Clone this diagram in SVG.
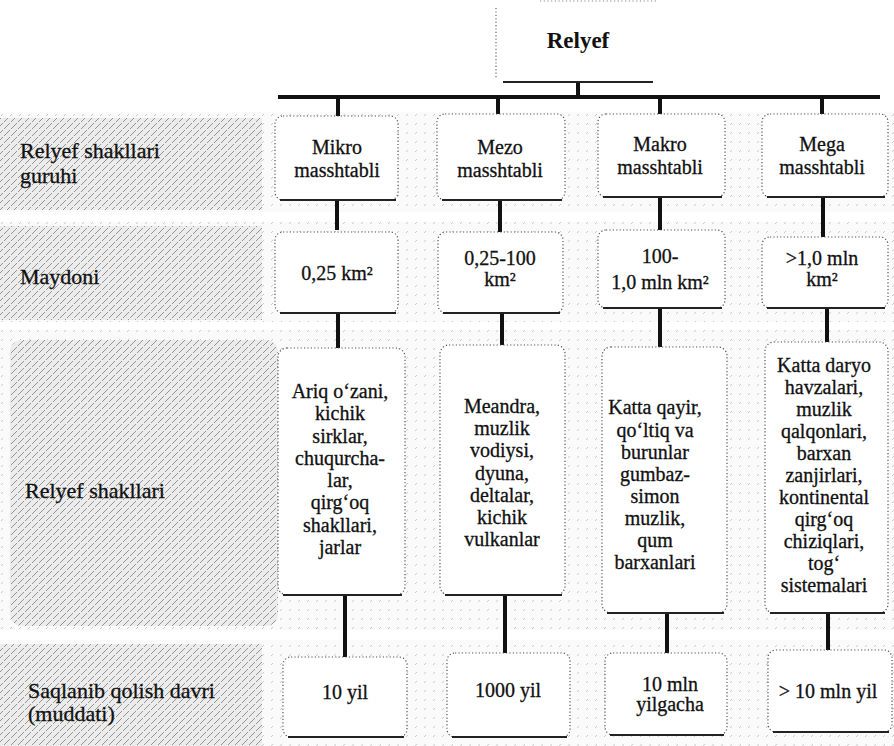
<svg xmlns="http://www.w3.org/2000/svg" width="894" height="746" viewBox="0 0 894 746">
<defs>
<pattern id="hatch" width="7" height="7" patternUnits="userSpaceOnUse">
<rect width="7" height="7" fill="#ececec"/>
<path d="M0 7 L3 4 M4 3 L7 0" stroke="#8a8a8a" stroke-width="0.9"/>
</pattern>
<pattern id="hatchLight" width="9" height="9" patternUnits="userSpaceOnUse">
<rect width="9" height="9" fill="#fafafa"/>
<path d="M1 8 L3 6" stroke="#bdbdbd" stroke-width="0.8"/>
</pattern>
</defs>
<style>
.box{fill:#fff;stroke:#555;stroke-width:1.2;stroke-dasharray:1.2 2.2}
.base{stroke:#222;stroke-width:2;fill:none}
.conn{stroke:#111;stroke-width:4;fill:none}
.t{font-family:"Liberation Serif","Times New Roman",serif;font-size:20px;fill:#111;stroke:#111;stroke-width:0.3;text-anchor:middle}
.lbl{font-family:"Liberation Serif","Times New Roman",serif;font-size:22px;fill:#111;stroke:#111;stroke-width:0.3}
.title{font-family:"Liberation Serif","Times New Roman",serif;font-size:23px;font-weight:bold;fill:#111;text-anchor:middle}
</style>
<rect width="894" height="746" fill="#fff"/>
<g id="bands">
<rect x="0" y="112" width="894" height="100" fill="url(#hatchLight)"/>
<rect x="0" y="222" width="894" height="100" fill="url(#hatchLight)"/>
<rect x="0" y="330" width="894" height="300" fill="url(#hatchLight)"/>
<rect x="0" y="640" width="894" height="106" fill="url(#hatchLight)"/>
<rect x="0" y="118" width="262" height="92" fill="url(#hatch)"/>
<rect x="0" y="226" width="262" height="94" fill="url(#hatch)"/>
<rect x="10" y="340" width="268" height="286" rx="12" fill="url(#hatch)"/>
<rect x="0" y="644" width="262" height="102" fill="url(#hatch)"/>
</g>
<g id="row-labels">
<text class="lbl" x="20" y="158">Relyef shakllari</text>
<text class="lbl" x="20" y="183">guruhi</text>
<text class="lbl" x="20" y="284">Maydoni</text>
<text class="lbl" x="25" y="498">Relyef shakllari</text>
<text class="lbl" x="28" y="698">Saqlanib qolish davri</text>
<text class="lbl" x="28" y="721">(muddati)</text>
</g>
<g id="connectors">
<path class="conn" d="M578 82 V97"/>
<path class="conn" d="M278 97 H880"/>
<path class="conn" d="M338 97 V117 M498 97 V114 M660 97 V114 M822 97 V114"/>
<path class="conn" d="M337 200 V230 M500 200 V232 M660 197 V230 M823 197 V237"/>
<path class="conn" d="M338 313 V348 M502 313 V345 M660 308 V347 M827 308 V342"/>
<path class="conn" d="M345 595 V657 M505 595 V653 M667 613 V653 M828 613 V650"/>
</g>
<g id="node-relyef">
<path d="M540 1 H657" stroke="#888" stroke-width="1" stroke-dasharray="1.2 2.5"/>
<path d="M496 8 V78" stroke="#666" stroke-width="1.2" stroke-dasharray="1.2 2.2"/>
<path class="base" d="M503 82 H653"/>
<text class="title" x="578" y="48">Relyef</text>
</g>
<g id="node-mikro">
<rect class="box" x="275" y="116" width="123" height="84" rx="8"/>
<path class="base" d="M280 200 H396"/>
<text class="t" x="337" y="154">Mikro</text>
<text class="t" x="337" y="177">masshtabli</text>
</g>
<g id="node-mezo">
<rect class="box" x="437" y="114" width="128" height="86" rx="8"/>
<path class="base" d="M442 200 H562"/>
<text class="t" x="500" y="154">Mezo</text>
<text class="t" x="500" y="177">masshtabli</text>
</g>
<g id="node-makro">
<rect class="box" x="598" y="114" width="127" height="83" rx="8"/>
<path class="base" d="M603 197 H722"/>
<text class="t" x="660" y="151">Makro</text>
<text class="t" x="660" y="174">masshtabli</text>
</g>
<g id="node-mega">
<rect class="box" x="762" y="114" width="126" height="83" rx="8"/>
<path class="base" d="M767 197 H885"/>
<text class="t" x="822" y="151">Mega</text>
<text class="t" x="822" y="174">masshtabli</text>
</g>
<g id="node-mikro-area">
<rect class="box" x="275" y="232" width="123" height="81" rx="8"/>
<path class="base" d="M280 313 H396"/>
<text class="t" x="337" y="280">0,25 km²</text>
</g>
<g id="node-mezo-area">
<rect class="box" x="438" y="232" width="125" height="81" rx="8"/>
<path class="base" d="M443 313 H560"/>
<text class="t" x="500" y="265">0,25-100</text>
<text class="t" x="500" y="286">km²</text>
</g>
<g id="node-makro-area">
<rect class="box" x="598" y="230" width="127" height="78" rx="8"/>
<path class="base" d="M603 308 H722"/>
<text class="t" x="660" y="263">100-</text>
<text class="t" x="660" y="289">1,0 mln km²</text>
</g>
<g id="node-mega-area">
<rect class="box" x="762" y="237" width="126" height="71" rx="8"/>
<path class="base" d="M767 308 H885"/>
<text class="t" x="822" y="265">&gt;1,0 mln</text>
<text class="t" x="822" y="286">km²</text>
</g>
<g id="node-mikro-forms">
<rect class="box" x="278" y="348" width="127" height="247" rx="9"/>
<path class="base" d="M283 595 H402"/>
<text class="t" x="340" y="398">Ariq o‘zani,</text>
<text class="t" x="340" y="420">kichik</text>
<text class="t" x="340" y="443">sirklar,</text>
<text class="t" x="340" y="465">chuqurcha-</text>
<text class="t" x="340" y="487">lar,</text>
<text class="t" x="340" y="509">qirg‘oq</text>
<text class="t" x="340" y="532">shakllari,</text>
<text class="t" x="340" y="554">jarlar</text>
</g>
<g id="node-mezo-forms">
<rect class="box" x="440" y="345" width="125" height="250" rx="9"/>
<path class="base" d="M445 595 H562"/>
<text class="t" x="502" y="413">Meandra,</text>
<text class="t" x="502" y="435">muzlik</text>
<text class="t" x="502" y="457">vodiysi,</text>
<text class="t" x="502" y="480">dyuna,</text>
<text class="t" x="502" y="502">deltalar,</text>
<text class="t" x="502" y="524">kichik</text>
<text class="t" x="502" y="546">vulkanlar</text>
</g>
<g id="node-makro-forms">
<rect class="box" x="602" y="347" width="125" height="266" rx="9"/>
<path class="base" d="M607 613 H724"/>
<text class="t" x="655" y="414">Katta qayir,</text>
<text class="t" x="655" y="437">qo‘ltiq va</text>
<text class="t" x="655" y="459">burunlar</text>
<text class="t" x="655" y="481">gumbaz-</text>
<text class="t" x="655" y="503">simon</text>
<text class="t" x="655" y="525">muzlik,</text>
<text class="t" x="655" y="547">qum</text>
<text class="t" x="655" y="569">barxanlari</text>
</g>
<g id="node-mega-forms">
<rect class="box" x="765" y="342" width="123" height="271" rx="9"/>
<path class="base" d="M770 613 H885"/>
<text class="t" x="824" y="372">Katta daryo</text>
<text class="t" x="824" y="394">havzalari,</text>
<text class="t" x="824" y="416">muzlik</text>
<text class="t" x="824" y="438">qalqonlari,</text>
<text class="t" x="824" y="460">barxan</text>
<text class="t" x="824" y="482">zanjirlari,</text>
<text class="t" x="824" y="504">kontinental</text>
<text class="t" x="824" y="526">qirg‘oq</text>
<text class="t" x="824" y="548">chiziqlari,</text>
<text class="t" x="824" y="570">tog‘</text>
<text class="t" x="824" y="592">sistemalari</text>
</g>
<g id="node-mikro-time">
<rect class="box" x="283" y="657" width="124" height="80" rx="8"/>
<path class="base" d="M288 737 H404"/>
<text class="t" x="345" y="699">10 yil</text>
</g>
<g id="node-mezo-time">
<rect class="box" x="447" y="653" width="123" height="84" rx="8"/>
<path class="base" d="M452 737 H567"/>
<text class="t" x="508" y="697">1000 yil</text>
</g>
<g id="node-makro-time">
<rect class="box" x="605" y="653" width="122" height="82" rx="8"/>
<path class="base" d="M610 735 H724"/>
<text class="t" x="670" y="691">10 mln</text>
<text class="t" x="670" y="711">yilgacha</text>
</g>
<g id="node-mega-time">
<rect class="box" x="768" y="650" width="124" height="82" rx="8"/>
<path class="base" d="M773 732 H889"/>
<text class="t" x="828" y="698">&gt; 10 mln yil</text>
</g>
</svg>
